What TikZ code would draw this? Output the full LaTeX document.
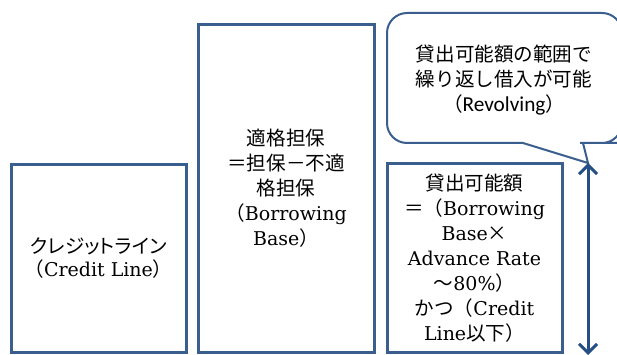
\documentclass[tikz,border=0pt]{standalone}
\usepackage{fontspec}
\setmainfont{DejaVu Serif}
\newfontfamily\jt[Scale=1.03]{Noto Sans CJK JP}
\newfontfamily\jpp[Scale=1.03,RawFeature=+palt]{Noto Sans CJK JP}
\newfontfamily\calfont[Scale=1.12]{Carlito}
\usetikzlibrary{arrows.meta}
\definecolor{boxblue}{HTML}{3A5F8E}
\definecolor{arrowblue}{HTML}{264F86}
\tikzset{
  box/.style={draw=boxblue, line width=3pt, fill=white, align=center, inner sep=0pt,
              font=\fontsize{19}{25}\selectfont},
  txt/.style={align=center, inner sep=0pt, font=\fontsize{19}{25}\selectfont},
  callout/.style={draw=boxblue, line width=2pt, fill=white},
  dimarrow/.style={draw=arrowblue, line width=3pt,
     {Straight Barb[length=9pt,width=18pt,line width=3pt]}-{Straight Barb[length=9pt,width=18pt,line width=3pt]}}
}
\begin{document}
\begin{tikzpicture}[x=1pt,y=-1pt]
\clip (0,0) rectangle (617,355);
\fill[white] (0,0) rectangle (617,355);

\node[box, minimum width=175pt, minimum height=187pt] (b1) at (98.5,258.5)
  {{\jpp クレジットライン}\\[-2pt]{\jt （}Credit Line{\jt ）}};
\node[box, minimum width=176pt, minimum height=327pt] (b2) at (286,188.5)
  {{\jt 適格担保}\\{\jt ＝担保－不適}\\{\jt 格担保}\\{\jt （}Borrowing\\Base{\jt ）}};
\node[box, minimum width=175pt, minimum height=188pt] (b3) at (474.5,258)
  {{\jt 貸出可能額}\\{\jt ＝（}Borrowing\\Base{\jt ×}\\Advance Rate\\{\jt ～}80\%{\jt ）}\\{\jt かつ（}Credit\\Line{\jt 以下）}};

\draw[callout] (387,80) [rounded corners=20pt] -- (387,13) -- (622,13) -- (622,143) -- (600,143)
  [sharp corners] -- (583,143) -- (588,163) -- (523,143) -- (510,143)
  [rounded corners=20pt] -- (387,143) -- cycle;
\node[txt] (ct) at (504,80)
  {{\jt 貸出可能額の範囲で}\\{\jt 繰り返し借入が可能}\\{\jt （}{\calfont Revolving}{\jt ）}};

\coordinate (top) at (588,163);
\coordinate (bot) at (588,355);
\draw[dimarrow] (top) -- (bot);
\end{tikzpicture}
\end{document}
